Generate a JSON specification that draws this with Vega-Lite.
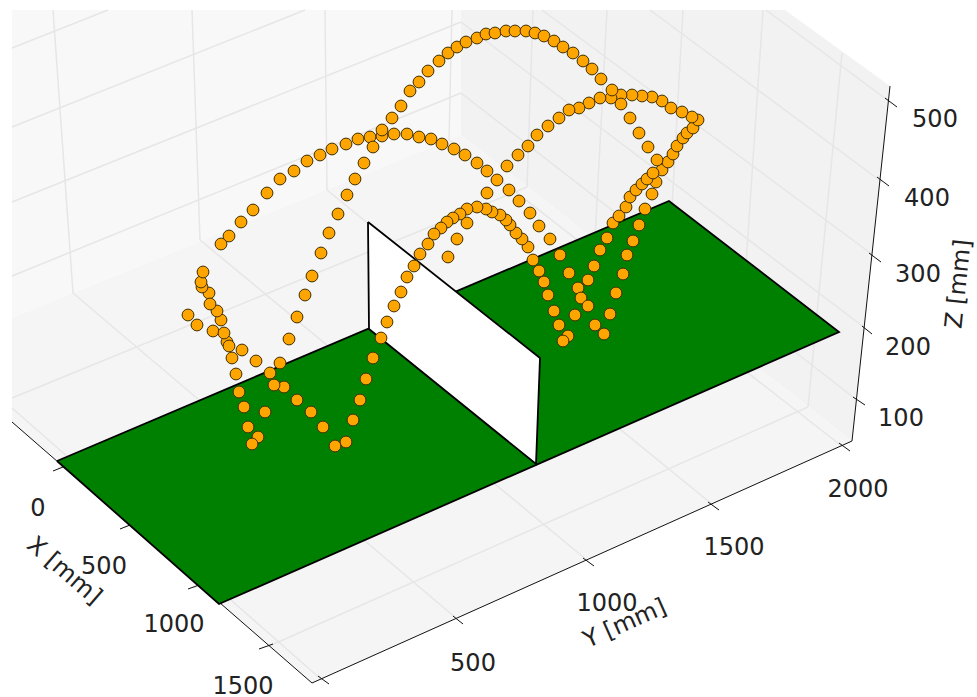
{
"$schema":"https://vega.github.io/schema/vega-lite/v6.json",
"width":977,"height":697,"autosize":{"type":"none"},"padding":0,
"background":"white","view":{"stroke":null},
"datasets":{
"panes":[
{"p":"a","i":0,"x":12,"y":10},{"p":"a","i":1,"x":461,"y":10},{"p":"a","i":2,"x":461,"y":135},{"p":"a","i":3,"x":12,"y":318},{"p":"a","i":4,"x":12,"y":10}],
"paneR":[{"i":0,"x":461,"y":10},{"i":1,"x":785,"y":10},{"i":2,"x":890,"y":86},{"i":3,"x":852,"y":441},{"i":4,"x":461,"y":135},{"i":5,"x":461,"y":10}],
"paneF":[{"i":0,"x":461,"y":135},{"i":1,"x":852,"y":441},{"i":2,"x":312,"y":683},{"i":3,"x":12,"y":422},{"i":4,"x":12,"y":318},{"i":5,"x":461,"y":135}],
"grid":[
{"x":53,"y":10,"x2":73,"y2":293},{"x":192,"y":10,"x2":200,"y2":240},{"x":325,"y":10,"x2":327,"y2":190},{"x":452,"y":10,"x2":449,"y2":140},
{"x":12,"y":48,"x2":108,"y2":10},{"x":12,"y":127,"x2":305,"y2":10},{"x":12,"y":202,"x2":461,"y2":22},{"x":12,"y":276,"x2":461,"y2":93},
{"x":533,"y":10,"x2":527,"y2":187},{"x":607,"y":10,"x2":595,"y2":240},{"x":683,"y":10,"x2":667,"y2":296},{"x":763,"y":10,"x2":740,"y2":354},{"x":842,"y":53,"x2":808,"y2":407},
{"x":461,"y":93,"x2":857,"y2":400},{"x":461,"y":22,"x2":865,"y2":328},{"x":542,"y":10,"x2":873,"y2":255},{"x":650,"y":10,"x2":882,"y2":182},{"x":766,"y":10,"x2":890,"y2":102},
{"x":12,"y":408,"x2":322,"y2":680},{"x":73,"y":293,"x2":457,"y2":619},{"x":200,"y":240,"x2":588,"y2":561},{"x":327,"y":190,"x2":713,"y2":505},{"x":449,"y":140,"x2":843,"y2":447},
{"x":12,"y":398,"x2":527,"y2":187},{"x":58,"y":468,"x2":595,"y2":240},{"x":125,"y":527,"x2":667,"y2":296},{"x":193,"y":588,"x2":740,"y2":354},{"x":267,"y":647,"x2":808,"y2":407}
],
"axes":[
{"x":12,"y":422,"x2":312,"y2":683},{"x":312,"y":683,"x2":852,"y2":441},{"x":852,"y":441,"x2":890,"y2":86},
{"x":53,"y":471,"x2":63,"y2":467},{"x":120,"y":529,"x2":130,"y2":525},{"x":188,"y":589,"x2":199,"y2":585},{"x":259,"y":649,"x2":273,"y2":644},
{"x":318,"y":676,"x2":329,"y2":684},{"x":453,"y":616,"x2":463,"y2":624},{"x":583,"y":558,"x2":594,"y2":566},{"x":708,"y":502,"x2":719,"y2":510},{"x":839,"y":443,"x2":850,"y2":451},
{"x":853,"y":397,"x2":865,"y2":405},{"x":862,"y":326,"x2":872,"y2":334},{"x":869,"y":253,"x2":881,"y2":262},{"x":877,"y":177,"x2":889,"y2":186},{"x":885,"y":98,"x2":897,"y2":107}
],
"floor":[{"i":0,"x":57,"y":461},{"i":1,"x":669,"y":201},{"i":2,"x":839,"y":332},{"i":3,"x":219,"y":604},{"i":4,"x":57,"y":461}],
"wall":[{"i":0,"x":368,"y":222},{"i":1,"x":540,"y":358},{"i":2,"x":536,"y":464},{"i":3,"x":369,"y":329},{"i":4,"x":368,"y":222}],
"points":[
{"x":221,"y":244},{"x":229,"y":236},{"x":241,"y":222},{"x":253,"y":210},{"x":267,"y":193},{"x":280,"y":179},{"x":294,"y":171},{"x":307,"y":161},{"x":320,"y":155},{"x":332,"y":149},{"x":346,"y":144},{"x":358,"y":139},{"x":370,"y":137},{"x":382,"y":136},{"x":394,"y":134},{"x":407,"y":134},{"x":419,"y":137},{"x":431,"y":139},{"x":442,"y":144},{"x":454,"y":149},{"x":465,"y":155},{"x":477,"y":163},{"x":487,"y":171},{"x":497,"y":180},{"x":509,"y":190},{"x":519,"y":201},{"x":530,"y":213},{"x":539,"y":226},{"x":550,"y":239},{"x":560,"y":255},{"x":569,"y":273},{"x":578,"y":288},{"x":581,"y":298},{"x":588,"y":306},{"x":595,"y":325},{"x":604,"y":334},{"x":610,"y":314},{"x":616,"y":293},{"x":623,"y":274},{"x":627,"y":255},{"x":633,"y":241},{"x":639,"y":225},{"x":645,"y":209},{"x":652,"y":194},{"x":656,"y":182},
{"x":662,"y":170},{"x":668,"y":162},{"x":673,"y":154},{"x":677,"y":146},{"x":683,"y":138},{"x":687,"y":133},{"x":693,"y":128},{"x":698,"y":120},{"x":692,"y":117},{"x":682,"y":112},{"x":671,"y":108},{"x":662,"y":101},{"x":652,"y":97},{"x":642,"y":96},{"x":632,"y":95},{"x":621,"y":95},{"x":611,"y":98},{"x":600,"y":98},{"x":589,"y":103},{"x":579,"y":108},{"x":569,"y":110},{"x":559,"y":118},{"x":548,"y":126},{"x":537,"y":135},{"x":528,"y":146},{"x":518,"y":155},{"x":507,"y":166},{"x":487,"y":193},{"x":467,"y":223},{"x":457,"y":239},{"x":448,"y":257},
{"x":392,"y":118},{"x":401,"y":106},{"x":410,"y":91},{"x":419,"y":82},{"x":428,"y":71},{"x":439,"y":61},{"x":448,"y":53},{"x":457,"y":47},{"x":466,"y":42},{"x":477,"y":38},{"x":486,"y":34},{"x":495,"y":33},{"x":506,"y":31},{"x":515,"y":31},{"x":526,"y":31},{"x":535,"y":33},{"x":544,"y":36},{"x":554,"y":41},{"x":563,"y":47},{"x":573,"y":53},{"x":583,"y":61},{"x":592,"y":69},{"x":601,"y":79},{"x":612,"y":90},{"x":621,"y":104},{"x":630,"y":118},{"x":639,"y":133},{"x":648,"y":147},{"x":657,"y":160},
{"x":613,"y":223},{"x":619,"y":216},{"x":626,"y":207},{"x":630,"y":197},{"x":636,"y":190},{"x":642,"y":184},{"x":647,"y":179},{"x":653,"y":173},{"x":607,"y":238},{"x":600,"y":250},{"x":594,"y":266},{"x":588,"y":280},{"x":575,"y":315},{"x":568,"y":336},{"x":563,"y":341},{"x":559,"y":325},{"x":554,"y":311},{"x":548,"y":295},{"x":544,"y":282},{"x":539,"y":271},{"x":533,"y":260},{"x":528,"y":247},{"x":522,"y":239},{"x":516,"y":233},{"x":510,"y":225},{"x":506,"y":220},{"x":500,"y":215},{"x":492,"y":212},{"x":486,"y":209},{"x":477,"y":207},{"x":467,"y":209},{"x":460,"y":214},{"x":453,"y":218},{"x":447,"y":222},{"x":441,"y":228},{"x":434,"y":234},{"x":428,"y":244},{"x":420,"y":254},{"x":414,"y":266},{"x":407,"y":277},{"x":401,"y":292},{"x":394,"y":306},{"x":387,"y":322},{"x":381,"y":338},
{"x":373,"y":358},{"x":366,"y":379},{"x":360,"y":400},{"x":353,"y":420},{"x":346,"y":442},{"x":335,"y":446},{"x":323,"y":427},{"x":311,"y":412},{"x":297,"y":400},{"x":284,"y":387},{"x":270,"y":373},{"x":256,"y":361},{"x":242,"y":350},{"x":213,"y":331},{"x":197,"y":325},{"x":188,"y":315},
{"x":258,"y":437},{"x":252,"y":444},{"x":248,"y":427},{"x":244,"y":407},{"x":239,"y":392},{"x":236,"y":374},{"x":232,"y":358},{"x":227,"y":342},{"x":229,"y":346},{"x":224,"y":333},{"x":221,"y":320},{"x":217,"y":311},{"x":209,"y":293},{"x":210,"y":304},{"x":202,"y":287},{"x":201,"y":282},{"x":203,"y":272},
{"x":265,"y":412},{"x":274,"y":385},{"x":280,"y":363},{"x":289,"y":339},{"x":297,"y":317},{"x":305,"y":295},{"x":312,"y":276},{"x":321,"y":253},{"x":329,"y":233},{"x":338,"y":214},{"x":347,"y":195},{"x":355,"y":179},{"x":364,"y":163},{"x":373,"y":147},{"x":382,"y":130}
],
"ticks":[
{"x":935,"y":118,"t":"500"},{"x":927,"y":197,"t":"400"},{"x":918,"y":273,"t":"300"},{"x":908,"y":346,"t":"200"},{"x":901,"y":417,"t":"100"},
{"x":858,"y":488,"t":"2000"},{"x":734,"y":546,"t":"1500"},{"x":607,"y":602,"t":"1000"},{"x":473,"y":662,"t":"500"},
{"x":38,"y":507,"t":"0"},{"x":104,"y":565,"t":"500"},{"x":174,"y":623,"t":"1000"},{"x":243,"y":685,"t":"1500"}
]
},
"encoding":{
"x":{"field":"x","type":"quantitative","scale":{"domain":[0,977],"range":[0,977],"nice":false,"zero":false},"axis":null},
"y":{"field":"y","type":"quantitative","scale":{"domain":[0,697],"range":[0,697],"nice":false,"zero":false},"axis":null}
},
"layer":[
{"data":{"name":"panes"},"mark":{"type":"line","fill":"#f8f8f8","stroke":"#f8f8f8","strokeWidth":0},"encoding":{"order":{"field":"i"}}},
{"data":{"name":"paneR"},"mark":{"type":"line","fill":"#f2f2f2","stroke":"#f2f2f2","strokeWidth":0},"encoding":{"order":{"field":"i"}}},
{"data":{"name":"paneF"},"mark":{"type":"line","fill":"#f5f5f5","stroke":"#f5f5f5","strokeWidth":0},"encoding":{"order":{"field":"i"}}},
{"data":{"name":"grid"},"mark":{"type":"rule","stroke":"#e6e6e6","strokeWidth":1.5},"encoding":{"x2":{"field":"x2"},"y2":{"field":"y2"}}},
{"data":{"name":"axes"},"mark":{"type":"rule","stroke":"#111111","strokeWidth":1},"encoding":{"x2":{"field":"x2"},"y2":{"field":"y2"}}},
{"data":{"name":"floor"},"mark":{"type":"line","fill":"#008000","stroke":"#000000","strokeWidth":1.8},"encoding":{"order":{"field":"i"}}},
{"data":{"name":"wall"},"mark":{"type":"line","fill":"#ffffff","stroke":"#000000","strokeWidth":1.8},"encoding":{"order":{"field":"i"}}},
{"data":{"name":"points"},"mark":{"type":"point","filled":true,"fill":"#ffa500","stroke":"#3f3000","strokeWidth":1,"opacity":1,"size":140,"shape":"circle"}},
{"data":{"name":"ticks"},"mark":{"type":"text","font":"DejaVu Sans","fontSize":24,"fill":"#222222","align":"center","baseline":"middle","dy":1.5},"encoding":{"text":{"field":"t"}}},
{"data":{"values":[{"x":64,"y":571,"t":"X [mm]"}]},"mark":{"type":"text","font":"DejaVu Sans","fontSize":24,"fill":"#222222","align":"center","baseline":"middle","angle":41},"encoding":{"text":{"field":"t"}}},
{"data":{"values":[{"x":625,"y":624,"t":"Y [mm]"}]},"mark":{"type":"text","font":"DejaVu Sans","fontSize":24,"fill":"#222222","align":"center","baseline":"middle","angle":336},"encoding":{"text":{"field":"t"}}},
{"data":{"values":[{"x":959,"y":284,"t":"Z [mm]"}]},"mark":{"type":"text","font":"DejaVu Sans","fontSize":24,"fill":"#222222","align":"center","baseline":"middle","angle":276},"encoding":{"text":{"field":"t"}}}
]
}
